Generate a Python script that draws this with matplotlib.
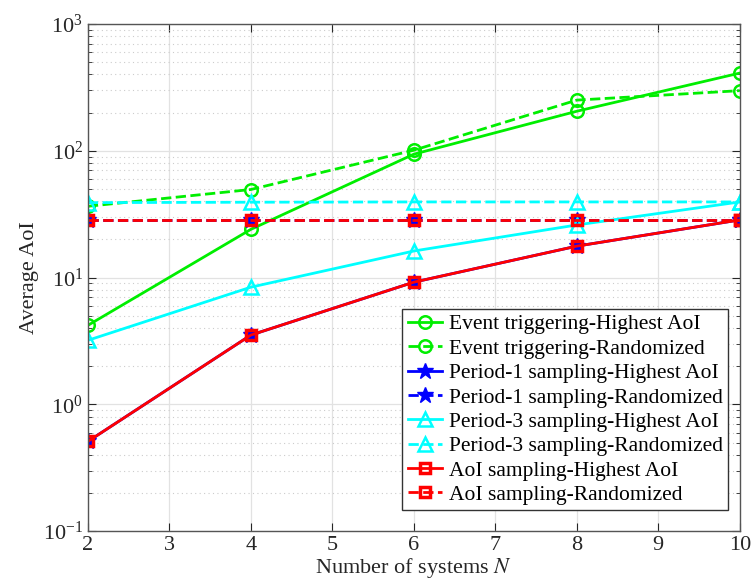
import matplotlib
matplotlib.use("Agg")
import matplotlib.pyplot as plt
from matplotlib.ticker import LogLocator, NullFormatter

plt.rcParams['font.family'] = ['Liberation Serif', 'DejaVu Serif']
plt.rcParams['mathtext.fontset'] = 'stix'

N = [2, 4, 6, 8, 10]

event_highest = [4.2, 24.0, 94.0, 205.0, 410.0]
event_random = [36.5, 49.5, 101.0, 251.0, 298.0]
period1_highest = [0.51, 3.52, 9.2, 17.7, 28.5]
period1_random = [28.5, 28.5, 28.5, 28.5, 28.5]
period3_highest = [3.2, 8.4, 16.2, 26.0, 39.5]
period3_random = [39.0, 39.3, 39.5, 39.5, 39.5]
aoi_highest = [0.51, 3.52, 9.2, 17.7, 28.5]
aoi_random = [28.5, 28.5, 28.5, 28.5, 28.5]

labels = ['Event triggering-Highest AoI', 'Event triggering-Randomized',
          'Period-1 sampling-Highest AoI', 'Period-1 sampling-Randomized',
          'Period-3 sampling-Highest AoI', 'Period-3 sampling-Randomized',
          'AoI sampling-Highest AoI', 'AoI sampling-Randomized']

fig = plt.figure(figsize=(7.51, 5.85), dpi=100)
ax = fig.add_axes([0.117, 0.092, 0.868, 0.867])

lw = 2
ax.plot(N, event_highest, '-', color='#00ee00', lw=lw, marker='o', ms=9, mfc='none', mew=1.8, label=labels[0])
ax.plot(N, event_random, '--', color='#00ee00', lw=lw, marker='o', ms=9, mfc='none', mew=1.8, label=labels[1])
ax.plot(N, period1_highest, '-', color='#0000ff', lw=lw, marker='*', ms=12, label=labels[2])
ax.plot(N, period1_random, '--', color='#0000ff', lw=lw, marker='*', ms=12, label=labels[3])
ax.plot(N, period3_highest, '-', color='#00ffff', lw=lw, marker='^', ms=10, mfc='none', mew=1.8, label=labels[4])
ax.plot(N, period3_random, '--', color='#00ffff', lw=lw, marker='^', ms=10, mfc='none', mew=1.8, label=labels[5])
ax.plot(N, aoi_highest, '-', color='#ff0000', lw=lw, marker='s', ms=6.5, mfc='none', mew=2.5, label=labels[6])
ax.plot(N, aoi_random, '--', color='#ff0000', lw=lw, marker='s', ms=6.5, mfc='none', mew=2.5, label=labels[7])

ax.set_yscale('log')
ax.set_xlim(2, 10)
ax.set_ylim(0.1, 1000)
ax.set_xticks(range(2, 11))
ax.yaxis.set_major_locator(LogLocator(base=10, numticks=10))
ax.yaxis.set_minor_locator(LogLocator(base=10, subs=range(2, 10), numticks=10))
ax.yaxis.set_minor_formatter(NullFormatter())

ax.grid(True, which='major', color='#e2e2e2', lw=0.9, ls='-')
ax.grid(True, which='minor', axis='y', color='#cccccc', lw=0.8, ls=(0, (1, 3)))
ax.set_axisbelow(True)

ax.tick_params(which='both', direction='in', top=True, right=True, labelsize=16, colors='#262626')
ax.tick_params(which='major', length=6)
ax.tick_params(which='minor', length=3)
for s in ax.spines.values():
    s.set_color('#555555')
    s.set_linewidth(1.0)

ax.set_xlabel('Number of systems $N$', fontsize=16, color='#262626', labelpad=1)
ax.set_ylabel('Average AoI', fontsize=16, color='#262626', labelpad=3)

leg = ax.legend(loc='lower right', bbox_to_anchor=(0.982, 0.041), borderaxespad=0,
                fontsize=15.5, handlelength=1.6, handletextpad=0.3,
                borderpad=0.25, labelspacing=0.2, fancybox=False,
                framealpha=1, edgecolor='#333333')
leg.get_frame().set_linewidth(1.0)

fig.savefig('out.png', dpi=100)
